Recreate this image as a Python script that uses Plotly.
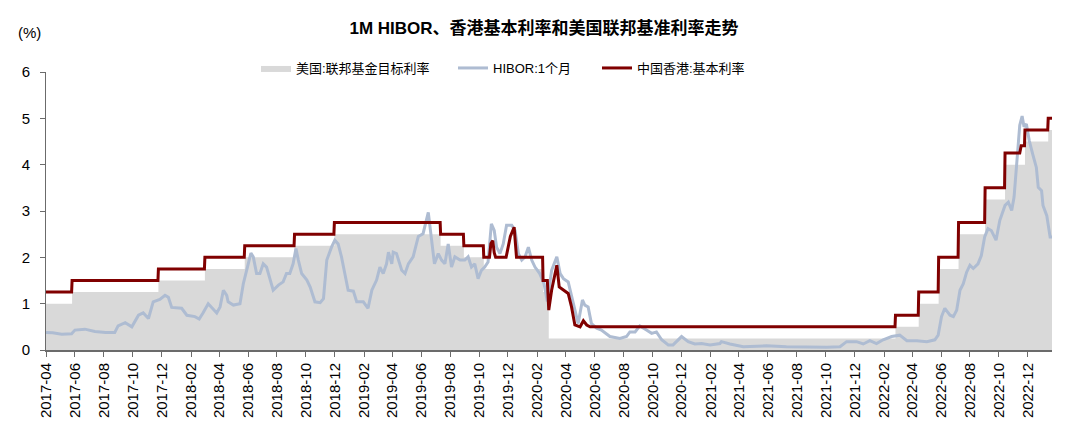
import plotly.graph_objects as go

# ---------------- data ----------------
fed_dates = ["2017-04-21", "2017-06-15", "2017-12-14", "2018-03-22", "2018-06-14", "2018-09-27",
             "2018-12-20", "2019-08-01", "2019-09-19", "2019-10-31", "2020-03-04", "2020-03-16",
             "2022-03-17", "2022-05-05", "2022-06-16", "2022-07-28", "2022-09-22", "2022-11-03",
             "2022-12-15", "2023-02-02", "2023-02-10"]
fed_values = [1.00, 1.25, 1.50, 1.75, 2.00, 2.25, 2.50, 2.25, 2.00, 1.75, 1.25, 0.25,
              0.50, 1.00, 1.75, 2.50, 3.25, 4.00, 4.50, 4.75, 4.75]

hibor_dates = [
    "2017-04-21", "2017-05-05", "2017-05-24", "2017-06-14", "2017-06-21", "2017-07-12", "2017-08-02",
    "2017-08-25", "2017-09-13", "2017-09-20", "2017-10-05", "2017-10-19", "2017-11-02", "2017-11-12",
    "2017-11-23", "2017-12-03", "2017-12-17", "2017-12-28", "2018-01-04", "2018-01-11", "2018-02-01",
    "2018-02-12", "2018-03-01", "2018-03-10", "2018-03-18", "2018-03-29", "2018-04-16", "2018-04-23",
    "2018-04-30", "2018-05-07", "2018-05-10", "2018-05-21", "2018-06-04", "2018-06-11", "2018-06-18",
    "2018-06-27", "2018-07-02", "2018-07-09", "2018-07-16", "2018-07-23", "2018-07-30", "2018-08-13",
    "2018-08-24", "2018-09-03", "2018-09-10", "2018-09-17", "2018-09-24", "2018-09-30", "2018-10-05",
    "2018-10-12", "2018-10-23", "2018-10-30", "2018-11-09", "2018-11-20", "2018-11-27", "2018-12-04",
    "2018-12-14", "2018-12-21", "2018-12-28", "2019-01-04", "2019-01-11", "2019-01-18", "2019-01-29",
    "2019-02-05", "2019-02-19", "2019-03-01", "2019-03-09", "2019-03-19", "2019-03-26", "2019-04-02",
    "2019-04-09", "2019-04-13", "2019-04-20", "2019-04-23", "2019-04-30", "2019-05-11", "2019-05-18",
    "2019-05-25", "2019-06-04", "2019-06-15", "2019-06-25", "2019-07-06", "2019-07-13", "2019-07-19",
    "2019-07-27", "2019-08-03", "2019-08-10", "2019-08-17", "2019-08-24", "2019-08-31", "2019-09-11",
    "2019-09-21", "2019-09-28", "2019-10-05", "2019-10-12", "2019-10-19", "2019-10-26", "2019-11-02",
    "2019-11-09", "2019-11-16", "2019-11-22", "2019-11-27", "2019-12-04", "2019-12-11", "2019-12-18",
    "2019-12-29", "2020-01-05", "2020-01-12", "2020-01-19", "2020-01-26", "2020-02-02", "2020-02-09",
    "2020-02-16", "2020-02-26", "2020-03-06", "2020-03-13", "2020-03-22", "2020-04-02", "2020-04-09",
    "2020-04-16", "2020-04-26", "2020-05-04", "2020-05-17", "2020-05-26", "2020-05-31", "2020-06-07",
    "2020-06-14", "2020-06-25", "2020-07-05", "2020-07-23", "2020-08-13", "2020-08-27", "2020-09-03",
    "2020-09-14", "2020-09-24", "2020-10-08", "2020-10-19", "2020-10-29", "2020-11-09", "2020-11-23",
    "2020-12-03", "2020-12-21", "2021-01-04", "2021-01-18", "2021-02-01", "2021-02-19", "2021-03-12",
    "2021-03-15", "2021-04-02", "2021-04-30", "2021-06-18", "2021-07-30", "2021-09-11", "2021-10-23",
    "2021-11-20", "2021-12-04", "2021-12-25", "2022-01-08", "2022-01-22", "2022-02-05", "2022-02-19",
    "2022-03-09", "2022-03-26", "2022-04-10", "2022-05-01", "2022-05-22", "2022-06-08", "2022-06-15",
    "2022-06-22", "2022-06-29", "2022-07-10", "2022-07-17", "2022-07-24", "2022-07-31", "2022-08-07",
    "2022-08-14", "2022-08-21", "2022-08-28", "2022-09-07", "2022-09-14", "2022-09-21", "2022-09-28",
    "2022-10-05", "2022-10-15", "2022-10-23", "2022-11-03", "2022-11-10", "2022-11-17", "2022-11-22",
    "2022-11-27", "2022-12-01", "2022-12-04", "2022-12-09", "2022-12-13", "2022-12-18", "2022-12-24",
    "2023-01-01", "2023-01-08", "2023-01-12", "2023-01-19", "2023-01-22", "2023-01-30", "2023-02-06",
    "2023-02-10"]
hibor_values = [
    0.38, 0.37, 0.34, 0.35, 0.43, 0.45, 0.40,
    0.38, 0.38, 0.52, 0.59, 0.50, 0.75, 0.80,
    0.68, 1.04, 1.09, 1.18, 1.14, 0.92, 0.90,
    0.75, 0.72, 0.67, 0.80, 1.00, 0.80, 0.93,
    1.29, 1.18, 1.04, 0.97, 1.00, 1.43, 1.72,
    2.09, 2.01, 1.65, 1.65, 1.86, 1.79, 1.29,
    1.40, 1.47, 1.65, 1.65, 1.86, 2.19, 1.94,
    1.65, 1.51, 1.36, 1.04, 1.02, 1.11, 1.94,
    2.22, 2.37, 2.29, 2.01, 1.65, 1.29, 1.27,
    1.04, 1.04, 0.90, 1.29, 1.51, 1.79, 1.65,
    1.86, 2.11, 1.86, 2.11, 2.08, 1.72, 1.65,
    1.86, 2.01, 2.45, 2.51, 2.97, 2.37, 1.86,
    2.08, 1.94, 1.86, 2.29, 1.79, 2.01, 1.94,
    1.94, 2.01, 1.79, 1.86, 1.54, 1.72, 1.79,
    1.90, 2.72, 2.58, 2.22, 2.08, 2.29, 2.69,
    2.69, 2.58, 2.08, 1.94, 2.01, 2.22, 1.94,
    1.79, 1.65, 1.43, 1.05, 1.72, 2.01, 1.65,
    1.54, 1.47, 1.15, 0.57, 1.08, 0.97, 0.93,
    0.57, 0.47, 0.43, 0.29, 0.25, 0.29, 0.39,
    0.39, 0.52, 0.43, 0.36, 0.39, 0.22, 0.11,
    0.11, 0.29, 0.18, 0.13, 0.14, 0.11, 0.14,
    0.18, 0.13, 0.07, 0.09, 0.07, 0.06, 0.06,
    0.07, 0.18, 0.18, 0.13, 0.20, 0.14, 0.22,
    0.29, 0.32, 0.20, 0.20, 0.18, 0.22, 0.32,
    0.72, 0.90, 0.75, 0.72, 0.86, 1.29, 1.43,
    1.68, 1.83, 1.76, 1.86, 2.04, 2.44, 2.62,
    2.58, 2.37, 2.80, 3.12, 3.19, 3.01, 3.30,
    3.94, 4.50, 4.85, 5.05, 4.82, 4.88, 4.52,
    4.20, 3.94, 3.51, 3.44, 3.12, 2.90, 2.44,
    2.44]

hk_dates = [
    "2017-04-21", "2017-06-14", "2017-06-15", "2017-12-13", "2017-12-14", "2018-03-21", "2018-03-22",
    "2018-06-13", "2018-06-14", "2018-09-26", "2018-09-27", "2018-12-19", "2018-12-20", "2019-07-31",
    "2019-08-01", "2019-09-18", "2019-09-19", "2019-10-30", "2019-10-31", "2019-11-12", "2019-11-15",
    "2019-11-19", "2019-11-22", "2019-11-25", "2019-12-17", "2019-12-26", "2020-01-03", "2020-01-08",
    "2020-03-03", "2020-03-04", "2020-03-13", "2020-03-16", "2020-03-22", "2020-04-02", "2020-04-07",
    "2020-04-16", "2020-04-26", "2020-05-03", "2020-05-10", "2020-05-21", "2020-05-28", "2020-06-04",
    "2020-06-11", "2022-03-16", "2022-03-17", "2022-05-04", "2022-05-05", "2022-06-15", "2022-06-16",
    "2022-07-27", "2022-07-28", "2022-09-21", "2022-09-22", "2022-11-02", "2022-11-03", "2022-12-04",
    "2022-12-07", "2022-12-14", "2022-12-15", "2023-02-01", "2023-02-02", "2023-02-10"]
hk_values = [
    1.25, 1.25, 1.50, 1.50, 1.75, 1.75, 2.00,
    2.00, 2.25, 2.25, 2.50, 2.50, 2.75, 2.75,
    2.50, 2.50, 2.25, 2.25, 2.00, 2.00, 2.30,
    2.36, 2.10, 2.00, 2.00, 2.45, 2.65, 2.00,
    2.00, 1.50, 1.50, 0.86, 1.29, 1.83, 1.36,
    1.29, 1.22, 0.93, 0.54, 0.50, 0.63, 0.54,
    0.50, 0.50, 0.75, 0.75, 1.25, 1.25, 2.00,
    2.00, 2.75, 2.75, 3.50, 3.50, 4.25, 4.25,
    4.41, 4.41, 4.75, 4.75, 5.00, 5.00]

tick_labels = ["2017-04", "2017-06", "2017-08", "2017-10", "2017-12",
               "2018-02", "2018-04", "2018-06", "2018-08", "2018-10", "2018-12",
               "2019-02", "2019-04", "2019-06", "2019-08", "2019-10", "2019-12",
               "2020-02", "2020-04", "2020-06", "2020-08", "2020-10", "2020-12",
               "2021-02", "2021-04", "2021-06", "2021-08", "2021-10", "2021-12",
               "2022-02", "2022-04", "2022-06", "2022-08", "2022-10", "2022-12"]
tick_day = "21"

title_text = "1M HIBOR、香港基本利率和美国联邦基准利率走势"
name_fed = "美国:联邦基金目标利率"
name_hibor = "HIBOR:1个月"
name_hk = "中国香港:基本利率"

# ---------------- figure ----------------
FONT = "Liberation Sans, Arial, Noto Sans CJK SC, sans-serif"
AXIS_COLOR = "#6b6b6b"
# the page body adds an 8px offset; the figure is sized to fill the rest of the window
W, H = 1072, 428
ML, MR, MT, MB = 38, 28, 64, 86
PW, PH = W - ML - MR, H - MT - MB

fig = go.Figure()
fig.add_trace(go.Scatter(
    x=fed_dates, y=fed_values, name=name_fed, mode="lines",
    line=dict(shape="hv", width=0, color="#d9d9d9"),
    fill="tozeroy", fillcolor="#d9d9d9", hoverinfo="skip", legend="legend"))
fig.add_trace(go.Scatter(
    x=hibor_dates, y=hibor_values, name=name_hibor, mode="lines",
    line=dict(color="#aebcd2", width=3), legend="legend2"))
fig.add_trace(go.Scatter(
    x=hk_dates, y=hk_values, name=name_hk, mode="lines",
    line=dict(color="#800000", width=3), legend="legend3"))


def leg(page_x):
    return dict(orientation="h", x=(page_x - 8 - ML) / PW, xanchor="left",
                y=1 + 4 / PH, yanchor="middle",
                font=dict(size=13, family=FONT, color="#000000"),
                bgcolor="rgba(0,0,0,0)", itemwidth=30)


fig.update_layout(
    width=W, height=H,
    margin=dict(l=ML, r=MR, t=MT, b=MB),
    paper_bgcolor="white", plot_bgcolor="white",
    font=dict(family=FONT, size=14, color="#000000"),
    title=dict(text="<b>" + title_text + "</b>", x=0.5, xanchor="center",
               y=1 - 20 / H, yanchor="middle",
               font=dict(size=17, family=FONT, color="#000000")),
    legend=leg(256), legend2=leg(453), legend3=leg(597),
    showlegend=True,
)

fig.update_xaxes(
    type="date",
    range=["2017-04-21", "2023-02-10"],
    tickmode="array",
    tickvals=[t + "-" + tick_day for t in tick_labels],
    ticktext=tick_labels,
    tickangle=-90,
    ticks="outside", ticklen=5, tickcolor=AXIS_COLOR, tickwidth=1,
    showline=True, linecolor=AXIS_COLOR, linewidth=2,
    showgrid=False, zeroline=False,
    tickfont=dict(size=15, family=FONT, color="#000000"),
)
fig.update_yaxes(
    range=[0, 6], dtick=1, tick0=0,
    ticks="outside", ticklen=5, tickcolor=AXIS_COLOR, tickwidth=1,
    showline=True, linecolor=AXIS_COLOR, linewidth=1,
    showgrid=False, zeroline=False, ticklabelstandoff=7,
    tickfont=dict(size=15, family=FONT, color="#000000"),
)

fig.add_annotation(text="(%)", xref="paper", yref="paper", x=(16 - 8 - ML) / PW, y=1 + 40 / PH,
                   xanchor="left", yanchor="middle", showarrow=False,
                   font=dict(size=15, family=FONT, color="#000000"))

fig.write_html("out.html")
